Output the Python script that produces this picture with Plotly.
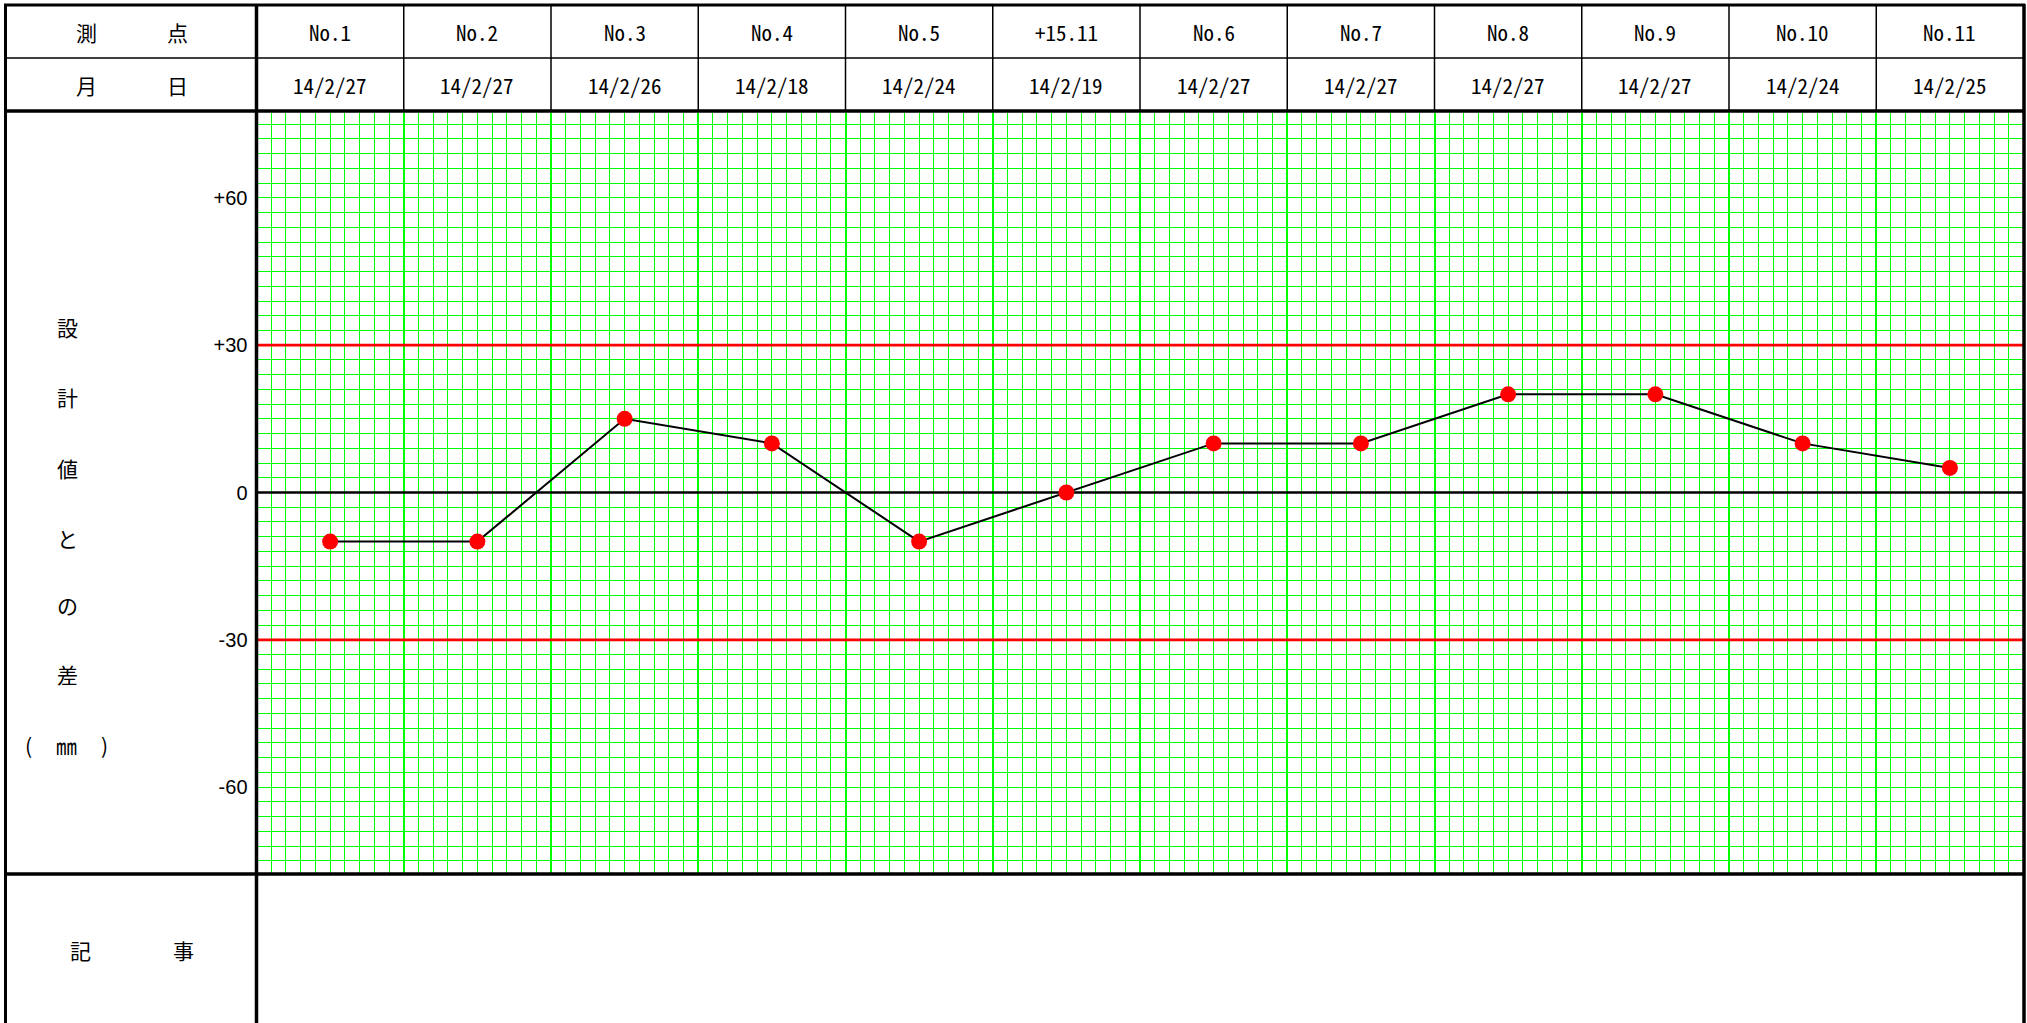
import plotly.graph_objects as go

# ---------------- data ----------------
points = ["No.1", "No.2", "No.3", "No.4", "No.5", "+15.11",
          "No.6", "No.7", "No.8", "No.9", "No.10", "No.11"]
dates = ["14/2/27", "14/2/27", "14/2/26", "14/2/18", "14/2/24", "14/2/19",
         "14/2/27", "14/2/27", "14/2/27", "14/2/27", "14/2/24", "14/2/25"]
diff_mm = [-10, -10, 15, 10, -10, 0, 10, 10, 20, 20, 10, 5]
ytick_vals = [60, 30, 0, -30, -60]
ytick_text = ["+60", "+30", "0", "-30", "-60"]
limits = [30, -30]
side_label = ["設", "計", "値", "と", "の", "差"]
header_labels = [("測", "点"), ("月", "日")]
note_label = ("記", "事")

# ---------------- geometry helpers ----------------
W, H = 2027, 1023
def px(x):
    return x / W
def py(y):
    return 1 - y / H

X0, X1 = 256.5, 2023.5       # plot area (pixels)
Y0, Y1 = 111, 874
n = len(points)
xs = list(range(n))
x_span = [-0.5, n - 0.5]

MONO = "Noto Sans Mono CJK JP, Liberation Mono, monospace"
CJK = "Noto Sans CJK JP, sans-serif"
GREEN = "#00ff00"

fig = go.Figure()
# tolerance lines (+30 / -30) and zero line, drawn under the data
for v in limits:
    fig.add_trace(go.Scatter(x=x_span, y=[v, v], mode="lines",
                             line=dict(color="red", width=2.7),
                             hoverinfo="skip", showlegend=False))
fig.add_trace(go.Scatter(x=x_span, y=[0, 0], mode="lines",
                         line=dict(color="black", width=2.5),
                         hoverinfo="skip", showlegend=False))
fig.add_trace(go.Scatter(
    x=xs, y=diff_mm, mode="lines+markers",
    line=dict(color="black", width=2),
    marker=dict(color="red", size=16, line=dict(width=0)),
    hoverinfo="skip", showlegend=False, cliponaxis=False,
))

shapes = []
def hline(y, xa, xb, w):
    shapes.append(dict(type="line", xref="paper", yref="paper",
                       x0=px(xa), x1=px(xb), y0=py(y), y1=py(y),
                       line=dict(color="black", width=w), layer="above"))
def vline(x, ya, yb, w):
    shapes.append(dict(type="line", xref="paper", yref="paper",
                       x0=px(x), x1=px(x), y0=py(ya), y1=py(yb),
                       line=dict(color="black", width=w), layer="above"))

# table frame
hline(5, 4, 2025, 3)          # top border
vline(5.5, 4, 1030, 3)        # left border
vline(2024, 4, 1030, 3.5)     # right border
hline(58, 5, 2024, 1.5)       # between header rows
hline(111, 5, 2024, 3.5)      # under header
hline(874, 5, 2024, 3.5)      # under chart
vline(X0, 4, 1030, 3.5)       # left column separator
# header column separators (in data coordinates along x)
for k in range(1, n):
    shapes.append(dict(type="line", xref="x", yref="paper",
                       x0=k - 0.5, x1=k - 0.5, y0=py(5), y1=py(111),
                       line=dict(color="black", width=1.5), layer="above"))

annotations = []
def ann(x, y, text, font, size, xref="paper", weight=400):
    annotations.append(dict(x=x, y=py(y), xref=xref, yref="paper", text=text,
                            showarrow=False, xanchor="center", yanchor="middle",
                            font=dict(family=font, size=size, color="black",
                                      weight=weight)))

for i in range(n):
    ann(i, 32, points[i], MONO, 21, xref="x", weight=300)
    ann(i, 85, dates[i], MONO, 21, xref="x", weight=300)

ann(px(86), 32, header_labels[0][0], CJK, 21)
ann(px(177), 32, header_labels[0][1], CJK, 21)
ann(px(86), 85, header_labels[1][0], CJK, 21)
ann(px(177), 85, header_labels[1][1], CJK, 21)

side_y = [327, 397, 468, 538, 605, 674]
for ch, yy in zip(side_label, side_y):
    ann(px(67), yy, ch, CJK, 21)
ann(px(28), 745, "(", CJK, 21)
ann(px(66), 745, "㎜", CJK, 21)
ann(px(104), 745, ")", CJK, 21)

ann(px(80), 950, note_label[0], CJK, 21)
ann(px(183), 950, note_label[1], CJK, 21)

fig.update_layout(
    width=W, height=H,
    margin=dict(l=0, r=0, t=0, b=0, pad=0),
    paper_bgcolor="white", plot_bgcolor="white",
    shapes=shapes, annotations=annotations,
    showlegend=False,
    xaxis=dict(
        domain=[px(X0), px(X1)], range=x_span,
        tickmode="linear", tick0=0.5, dtick=1,
        showticklabels=False, ticks="",
        showgrid=True, gridcolor=GREEN, gridwidth=2,
        zeroline=False, showline=False, fixedrange=True,
        minor=dict(tickmode="linear", tick0=0.5, dtick=0.1,
                   showgrid=True, gridcolor=GREEN, gridwidth=1, ticks=""),
    ),
    yaxis=dict(
        domain=[py(Y1), py(Y0)], range=[-77.7, 77.7],
        tickmode="array", tickvals=ytick_vals, ticktext=ytick_text,
        ticks="outside", ticklen=4, tickcolor="rgba(0,0,0,0)",
        tickfont=dict(family="Liberation Sans, Arial, sans-serif", size=20, color="black"),
        showgrid=True, gridcolor=GREEN, gridwidth=1,
        zeroline=False, showline=False, fixedrange=True, automargin=False,
        minor=dict(tickmode="linear", tick0=0, dtick=3,
                   showgrid=True, gridcolor=GREEN, gridwidth=1, ticks=""),
    ),
)

fig.write_html("out.html",
               config={"displayModeBar": False},
               post_script="document.body.style.margin='0';document.body.style.overflow='hidden';")
